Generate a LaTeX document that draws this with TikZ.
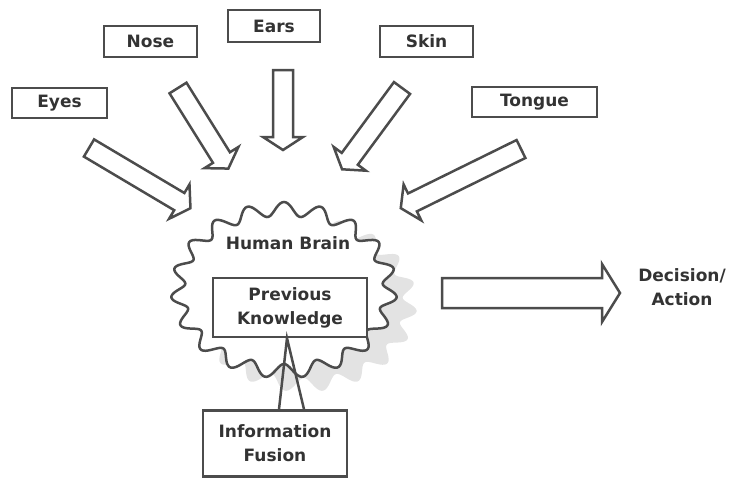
\documentclass[tikz,border=0pt]{standalone}
\usepackage{fontspec}
\setmainfont{DejaVu Sans}
\usetikzlibrary{calc}

\begin{document}
\begin{tikzpicture}[x=1pt, y=-1pt,
    sense/.style={rectangle, draw=black!70, line width=2.5pt, fill=white, inner sep=0pt, font=\fontsize{17}{24}\selectfont\bfseries, text=black!80, align=center},
    txt/.style={font=\fontsize{17}{24}\selectfont\bfseries, text=black!80, align=center},
    hollow/.style={draw=black!70, line width=2.5pt, fill=white, line join=miter},
    wire/.style={draw=black!70, line width=2.5pt}
]
\useasboundingbox (0,0) rectangle (736,479);

% brain with its shadow
\fill[gray!22, shift={(20,14)}] plot[domain=0:360, samples=361, smooth] ({284+(106+7*sin(19*\x))*cos(\x)}, {290+(81+7*sin(19*\x))*sin(\x)}) -- cycle;
\draw[hollow] plot[domain=0:360, samples=361, smooth] ({284+(106+7*sin(19*\x))*cos(\x)}, {290+(81+7*sin(19*\x))*sin(\x)}) -- cycle;
\node[txt] (brain) at (288,243) {Human Brain};

% the five senses
\node[sense, minimum width=95, minimum height=30] (eyes) at (59.5,103) {Eyes};
\node[sense, minimum width=93, minimum height=31] (nose) at (150.5,41.5) {Nose};
\node[sense, minimum width=92, minimum height=32] (ears) at (274,26) {Ears};
\node[sense, minimum width=93, minimum height=31] (skin) at (426.5,41.5) {Skin};
\node[sense, minimum width=125, minimum height=30] (tongue) at (534.5,102) {Tongue};

% arrows into the brain: tail x / tail y / angle / length
\foreach \tx/\ty/\ang/\len in {89/148/-30.7/118, 178/88/-58/95, 283/70/-90/80, 402/88/-126.4/101, 521/149/-153.8/134}
  \draw[hollow, shift={(\tx,\ty)}, rotate=\ang] (0,-10) -- (\len-13,-10) -- (\len-13,-20) -- (\len,0) -- (\len-13,20) -- (\len-13,10) -- (0,10) -- cycle;

% knowledge and fusion
\node[sense, minimum width=154, minimum height=59] (knowledge) at (290,307.5) {Previous\\Knowledge};
\node[sense, minimum width=144, minimum height=66] (fusion) at (275,443.5) {Information\\Fusion};
\coordinate (apex) at ($(knowledge.south)+(-3,0)$);
\coordinate (footl) at ($(fusion.north)+(4,0)$);
\coordinate (footr) at ($(fusion.north)+(29,0)$);
\draw[wire] (footl) -- (apex) -- (footr);

% output
\draw[hollow, shift={(442,293)}] (0,-15) -- (160,-15) -- (160,-29) -- (178,0) -- (160,29) -- (160,15) -- (0,15) -- cycle;
\node[txt] (decision) at (682,287) {Decision/\\Action};
\end{tikzpicture}
\end{document}
